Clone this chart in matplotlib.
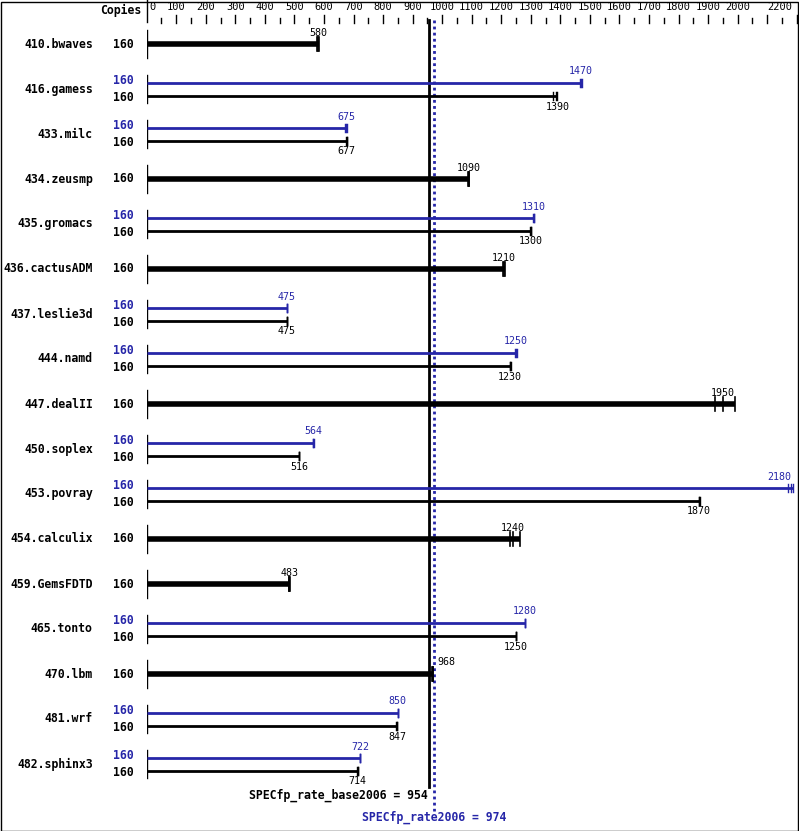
import matplotlib
matplotlib.use("Agg")
import matplotlib.pyplot as plt
import matplotlib.transforms as mtransforms
from matplotlib.patches import Rectangle

benchmarks = ['410.bwaves', '416.gamess', '433.milc', '434.zeusmp', '435.gromacs',
              '436.cactusADM', '437.leslie3d', '444.namd', '447.dealII', '450.soplex',
              '453.povray', '454.calculix', '459.GemsFDTD', '465.tonto', '470.lbm',
              '481.wrf', '482.sphinx3']
copies = [160] * 17
base_vals = [580, 1390, 677, 1090, 1300, 1210, 475, 1230, 1950, 516,
             1870, 1240, 483, 1250, 968, 847, 714]
peak_vals = [None, 1470, 675, None, 1310, None, 475, 1250, None, 564,
             2180, None, None, 1280, None, 850, 722]
base_runs = [[578, 580, 582], [1375, 1385, 1390], [674, 677, 678], [1088, 1090, 1092],
             [1297, 1300, 1302], [1205, 1210, 1212], [474, 475, 476], [1228, 1230, 1232],
             [1925, 1950, 1990], [515, 516, 517], [1868, 1870, 1873], [1228, 1240, 1265],
             [480, 483, 485], [1249, 1250, 1251], [965, 968, 970], [844, 847, 848],
             [713, 714, 715]]
peak_runs = [None, [1465, 1470, 1472], [672, 675, 678], None, [1308, 1310, 1312], None,
             [474, 475, 476], [1248, 1250, 1253], None, [563, 564, 565],
             [2172, 2180, 2186], None, None, [1279, 1280, 1281], None,
             [849, 850, 851], [721, 722, 723]]
base_score = 954
peak_score = 974
major_ticks = list(range(0, 2201, 100))
tick_labels = [str(t) if t != 2100 else '' for t in major_ticks]

BLUE = '#2626a8'
W, H = 799, 831
fig = plt.figure(figsize=(W / 100, H / 100), dpi=100)
x0, x1 = 146.7, 796.7
ax = fig.add_axes([x0 / W, 0, (x1 - x0) / W, 1])
ax.set_xlim(0, 2200)
ax.set_ylim(H, 0)
ax.axis('off')

mono = 'DejaVu Sans Mono'


def off(dx):
    return mtransforms.offset_copy(ax.transData, fig=fig, x=dx, y=0, units='dots')


# top scale
ax.plot([0, 0], [0, 22], color='black', lw=1, clip_on=False)
for t in range(50, 2201, 50):
    top = 15 if t % 100 == 0 else 18
    ax.plot([t, t], [top, 23], color='black', lw=1, clip_on=False)
for t, lab in zip(major_ticks, tick_labels):
    if t == 0:
        ax.text(0, 7, lab, transform=off(3), ha='left', va='center', family=mono, fontsize=7.5)
    elif t == 2200:
        ax.text(t, 7, lab, transform=off(-4), ha='right', va='center', family=mono, fontsize=7.5)
    else:
        ax.text(t, 7, lab, ha='center', va='center', family=mono, fontsize=7.5)
ax.text(0, 10, 'Copies', transform=off(-5), ha='right', va='center',
        family=mono, fontsize=8.3, fontweight='bold')

# score lines
ax.plot([base_score, base_score], [20, 787], color='black', lw=2)
ax.plot([peak_score, peak_score], [20, 811], color=BLUE, lw=2, linestyle=(0, (1, 1.2)))
ax.text(base_score, 795, 'SPECfp_rate_base2006 = %d' % base_score, transform=off(-1),
        ha='right', va='center', family=mono, fontsize=8.3, fontweight='bold')
ax.text(peak_score, 817, 'SPECfp_rate2006 = %d' % peak_score, ha='center', va='center',
        family=mono, fontsize=8.3, fontweight='bold', color=BLUE)


def value_label(v, y, color, above):
    dy = -11 if above else 11
    if abs(v - base_score) < 30:
        ax.text(peak_score, y - 12, str(v), transform=off(3), ha='left', va='center',
                family=mono, fontsize=7.2, color=color)
    elif v > 2150:
        ax.text(2200, y + dy, str(v), transform=off(-5), ha='right', va='center',
                family=mono, fontsize=7.2, color=color)
    else:
        ax.text(v, y + dy, str(v), ha='center', va='center', family=mono,
                fontsize=7.2, color=color)


for i, name in enumerate(benchmarks):
    yc = 44 + 45 * i
    ax.plot([0, 0], [yc - 14, yc + 14], color='black', lw=1)
    ax.text(0, yc, name, transform=off(-54), ha='right', va='center',
            family=mono, fontsize=8.3, fontweight='bold')
    if peak_vals[i] is None:
        runs = base_runs[i]
        ax.plot([0, max(runs)], [yc, yc], color='black', lw=4, solid_capstyle='butt')
        for r in runs:
            ax.plot([r, r], [yc - 7, yc + 7], color='black', lw=1.2)
        ax.text(0, yc, str(copies[i]), transform=off(-13), ha='right', va='center',
                family=mono, fontsize=8.3, fontweight='bold')
        value_label(base_vals[i], yc, 'black', True)
    else:
        yp, yb = yc - 6.5, yc + 6.5
        pr, br = peak_runs[i], base_runs[i]
        ax.plot([0, max(pr)], [yp, yp], color=BLUE, lw=2, solid_capstyle='butt')
        ax.plot([0, max(br)], [yb, yb], color='black', lw=2, solid_capstyle='butt')
        for r in pr:
            ax.plot([r, r], [yp - 4, yp + 4], color=BLUE, lw=1)
        for r in br:
            ax.plot([r, r], [yb - 4, yb + 4], color='black', lw=1)
        ax.text(0, yp - 2, str(copies[i]), transform=off(-13), ha='right', va='center',
                family=mono, fontsize=8.3, fontweight='bold', color=BLUE)
        ax.text(0, yb + 2, str(copies[i]), transform=off(-13), ha='right', va='center',
                family=mono, fontsize=8.3, fontweight='bold')
        value_label(peak_vals[i], yp, BLUE, True)
        value_label(base_vals[i], yb, 'black', False)

fig.patches.append(Rectangle((0.5 / W, 0.5 / H), (W - 2) / W, (H - 2) / H,
                             transform=fig.transFigure, fill=False,
                             edgecolor='black', lw=1))

fig.savefig('out.png', dpi=100)
